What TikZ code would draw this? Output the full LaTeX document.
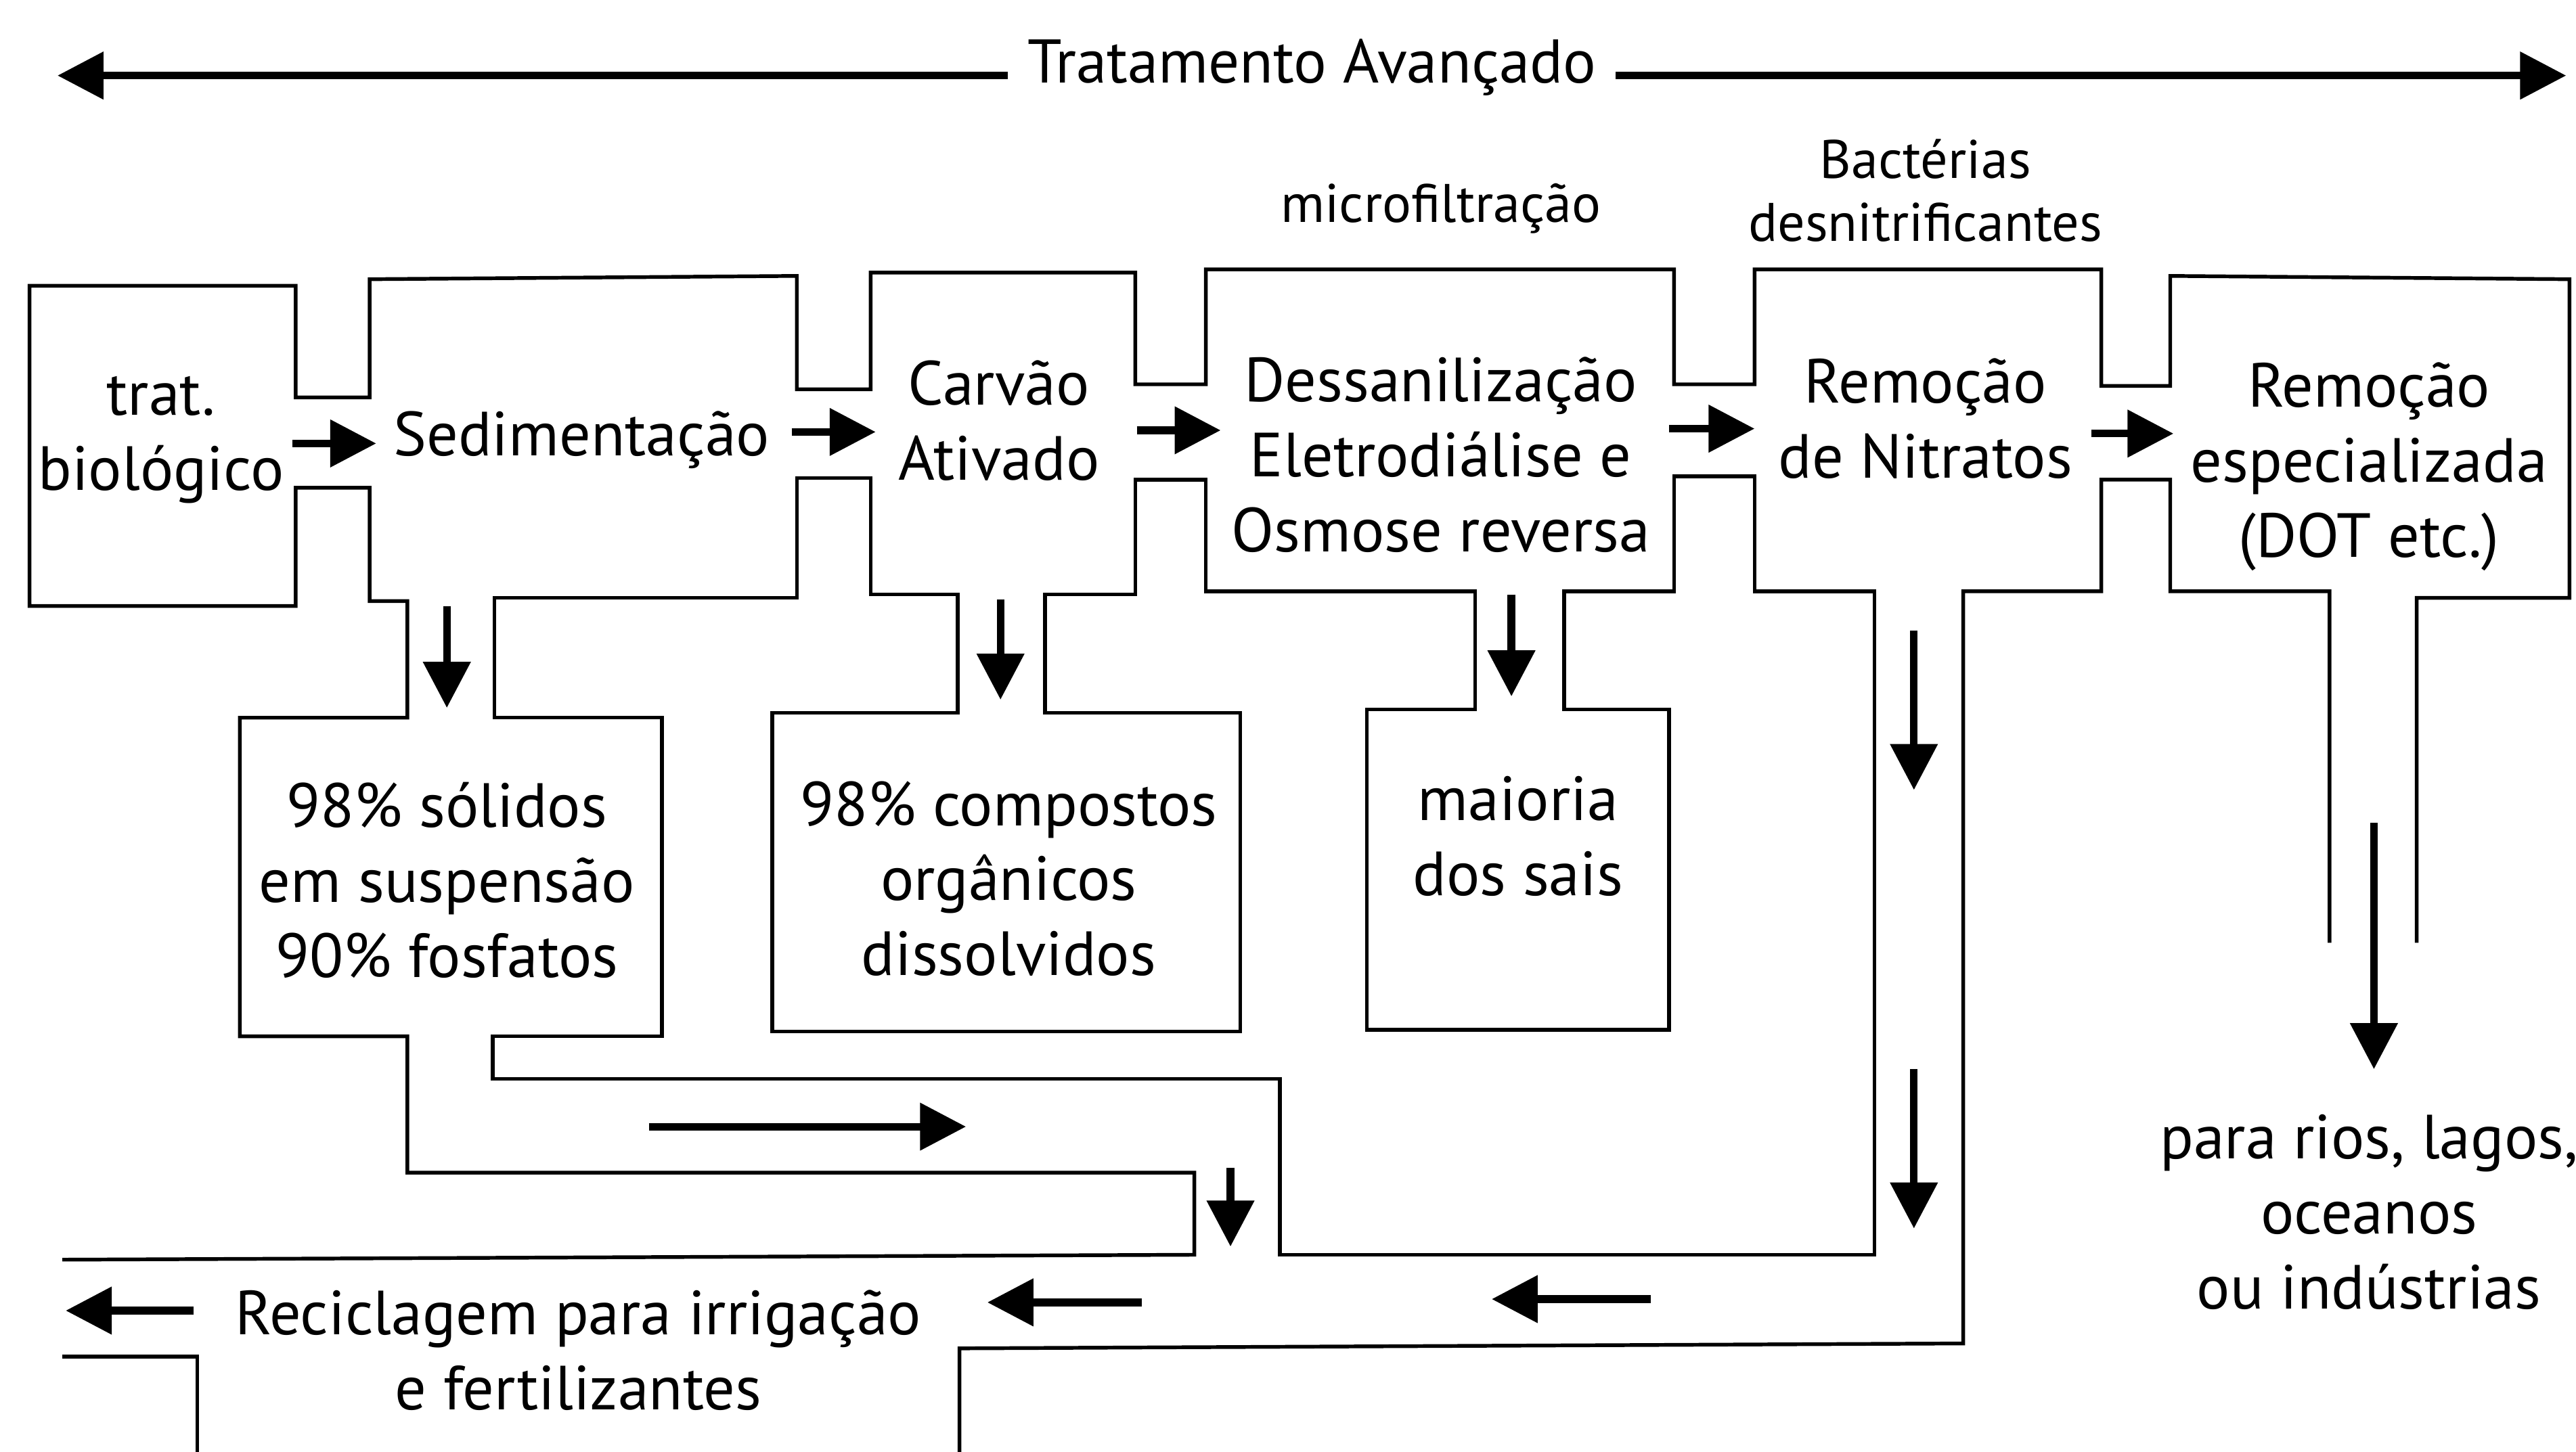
\documentclass[tikz,border=0pt]{standalone}
\usepackage{fontspec}
\setmainfont{PT Sans}
\usetikzlibrary{arrows.meta}
\tikzset{
    font=\fontsize{27}{32.5}\selectfont,
    >={Triangle[length=0.7cm,width=0.7cm]},
    % Lines
    pipe/.style={line width=1.6pt, line join=miter},
    flow/.style={->, line width=3.3pt},
    % Labels
    lbl/.style={align=center, inner sep=0pt},
    small/.style={lbl, font=\fontsize{23.5}{27}\selectfont}
}

\begin{document}
\begin{tikzpicture}[x=0.025cm, y=-0.025cm]
\useasboundingbox (0,0) rectangle (1568,884);

\node[lbl] (bio) at (98,268) {trat.\\biológico};
\node[lbl] (sed) at (354,268) {Sedimentação};
\node[lbl] (carv) at (608,256) {Carvão\\Ativado};
\node[lbl] (dess) at (877,277) {Dessanilização\\Eletrodiálise e\\Osmose reversa};
\node[lbl] (nitr) at (1172,255) {Remoção\\de Nitratos};
\node[lbl] (esp) at (1442,284) {Remoção\\especializada\\(DOT etc.)};
\node[lbl] (sol) at (272,536) {98\% sólidos\\em suspensão\\90\% fosfatos};
\node[lbl] (org) at (614,535) {98\% compostos\\orgânicos\\dissolvidos};
\node[lbl] (sais) at (924,509) {maioria\\dos sais};
\node[lbl] (rios) at (1442,738) {para rios, lagos,\\oceanos\\ou indústrias};
\node[lbl] (recic) at (352,822) {Reciclagem para irrigação\\e fertilizantes};
\node[small] (micro) at (877,127) {microfiltração};
\node[small] (bact) at (1172,116) {Bactérias\\desnitrificantes};

\draw[pipe] (1471,574) -- (1471,364) -- (1564,364) -- (1564,170) -- (1321,168) -- (1321,235) -- (1279,235)
    -- (1279,164) -- (1068,164) -- (1068,234) -- (1019,234) -- (1019,164) -- (734,164) -- (734,234)
    -- (691,234) -- (691,166) -- (530,166) -- (530,237) -- (485,237) -- (485,168) -- (225,170)
    -- (225,242) -- (180,242) -- (180,174) -- (18,174) -- (18,369) -- (180,369) -- (180,297)
    -- (225,297) -- (225,366) -- (248,366) -- (248,437) -- (146,437) -- (146,631) -- (248,631)
    -- (248,714) -- (727,714) -- (727,764) -- (38,767);
\draw[pipe] (301,437) -- (403,437) -- (403,631) -- (300,631) -- (300,657) -- (779,657) -- (779,764)
    -- (1141,764) -- (1141,360) -- (1068,360) -- (1068,290) -- (1019,290) -- (1019,360) -- (952,360)
    -- (952,432) -- (1016,432) -- (1016,627) -- (832,627) -- (832,432) -- (898,432) -- (898,360)
    -- (734,360) -- (734,292) -- (691,292) -- (691,362) -- (636,362) -- (636,434) -- (755,434)
    -- (755,628) -- (470,628) -- (470,434) -- (583,434) -- (583,362) -- (530,362) -- (530,291)
    -- (485,291) -- (485,364) -- (301,364) -- cycle;
\draw[pipe] (1418,574) -- (1418,360) -- (1321,360) -- (1321,292) -- (1279,292) -- (1279,360)
    -- (1195,360) -- (1195,818) -- (584,821) -- (584,884);
\draw[pipe] (38,826) -- (120,826) -- (120,884);

\coordinate (topl) at (35,46);     \coordinate (topr) at (1562,46);
\coordinate (a1s) at (178,270);    \coordinate (a1e) at (229,270);
\coordinate (a2s) at (482,263);    \coordinate (a2e) at (533,263);
\coordinate (a3s) at (692,262);    \coordinate (a3e) at (743,262);
\coordinate (a4s) at (1016,261);   \coordinate (a4e) at (1068,261);
\coordinate (a5s) at (1273,264);   \coordinate (a5e) at (1323,264);
\coordinate (d1s) at (272,369);    \coordinate (d1e) at (272,431);
\coordinate (d2s) at (609,365);    \coordinate (d2e) at (609,426);
\coordinate (d3s) at (920,362);    \coordinate (d3e) at (920,424);
\coordinate (d4s) at (1165,384);   \coordinate (d4e) at (1165,481);
\coordinate (d5s) at (1165,651);   \coordinate (d5e) at (1165,748);
\coordinate (d6s) at (1445,501);   \coordinate (d6e) at (1445,651);
\coordinate (d7s) at (749,711);    \coordinate (d7e) at (749,759);
\coordinate (r1s) at (395,686);    \coordinate (r1e) at (588,686);
\coordinate (l1s) at (1005,791);   \coordinate (l1e) at (908,791);
\coordinate (l2s) at (695,793);    \coordinate (l2e) at (601,793);
\coordinate (l3s) at (118,798);    \coordinate (l3e) at (40,798);

\draw[flow, <->] (topl) -- node[fill=white, inner xsep=0.3cm, yshift=0.12cm, font=\fontsize{26.7}{30}\selectfont] (trat) {Tratamento Avançado} (topr);

\draw[flow] (a1s) -- (a1e);
\draw[flow] (a2s) -- (a2e);
\draw[flow] (a3s) -- (a3e);
\draw[flow] (a4s) -- (a4e);
\draw[flow] (a5s) -- (a5e);
\draw[flow] (d1s) -- (d1e);
\draw[flow] (d2s) -- (d2e);
\draw[flow] (d3s) -- (d3e);
\draw[flow] (d4s) -- (d4e);
\draw[flow] (d5s) -- (d5e);
\draw[flow] (d6s) -- (d6e);
\draw[flow] (d7s) -- (d7e);
\draw[flow] (r1s) -- (r1e);
\draw[flow] (l1s) -- (l1e);
\draw[flow] (l2s) -- (l2e);
\draw[flow] (l3s) -- (l3e);

\end{tikzpicture}
\end{document}
